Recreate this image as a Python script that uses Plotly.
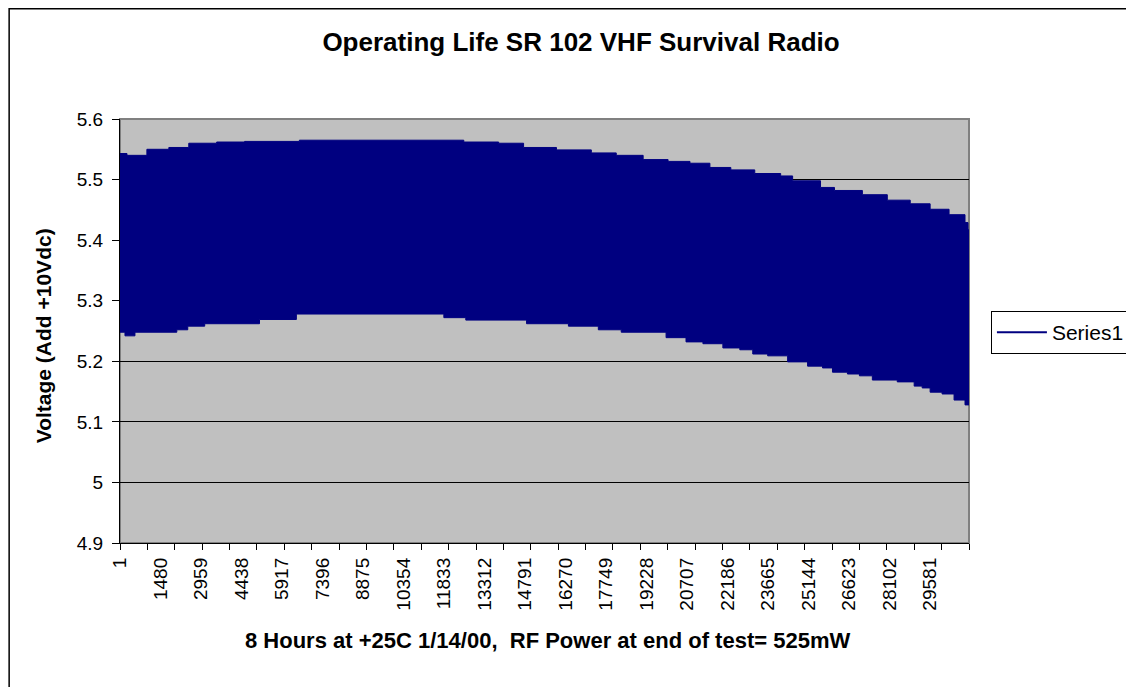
import plotly.graph_objects as go

# Category index (sample number) tick labels
x_labels = [1, 1480, 2959, 4438, 5917, 7396, 8875, 10354, 11833, 13312, 14791,
            16270, 17749, 19228, 20707, 22186, 23665, 25144, 26623, 28102, 29581]
n_samples = 31001

# Upper envelope of the oscillating voltage trace (sample index, volts)
upper_idx = [1, 256, 983, 1784, 2512, 3530, 4549, 6550, 10189, 12554, 13827, 14737,
             15938, 17211, 18121, 19103, 20013, 20813, 21541, 22305, 23178, 24124,
             24561, 25580, 26089, 27108, 28018, 28855, 29582, 30273, 30855, 30965, 31001]
upper_v = [5.543, 5.540, 5.550, 5.553, 5.560, 5.562, 5.563, 5.565, 5.565, 5.562, 5.560, 5.553,
           5.549, 5.544, 5.540, 5.533, 5.530, 5.527, 5.520, 5.516, 5.510, 5.506,
           5.498, 5.487, 5.482, 5.475, 5.466, 5.460, 5.451, 5.442, 5.429, 5.417, 5.417]

# Lower envelope of the oscillating voltage trace (sample index, volts)
lower_idx = [1, 183, 547, 2075, 2475, 3094, 5095, 6441, 11826, 12627, 14846, 16374,
             17466, 18303, 19940, 20668, 21286, 22014, 22632, 23105, 23651, 24379,
             25107, 25652, 26016, 26562, 26999, 27472, 28381, 28999, 29291, 29582,
             30018, 30455, 30855, 31001]
lower_v = [5.248, 5.242, 5.248, 5.252, 5.258, 5.262, 5.269, 5.278, 5.272, 5.268, 5.262, 5.258,
           5.252, 5.248, 5.239, 5.232, 5.229, 5.222, 5.219, 5.212, 5.209, 5.199,
           5.192, 5.189, 5.182, 5.179, 5.176, 5.169, 5.166, 5.159, 5.156, 5.149,
           5.146, 5.136, 5.128, 5.128]

y_ticks = [4.9, 5.0, 5.1, 5.2, 5.3, 5.4, 5.5, 5.6]
y_ticktext = ["4.9", "5", "5.1", "5.2", "5.3", "5.4", "5.5", "5.6"]

NAVY = "#000080"
FONT = "Liberation Sans, Arial, sans-serif"

fig = go.Figure()
fig.add_trace(go.Scatter(x=lower_idx, y=lower_v, mode="lines", line=dict(color=NAVY, width=1, shape="hv"),
                         showlegend=False, hoverinfo="skip"))
fig.add_trace(go.Scatter(x=upper_idx, y=upper_v, mode="lines", line=dict(color=NAVY, width=1, shape="hv"),
                         fill="tonexty", fillcolor=NAVY, showlegend=False, hoverinfo="skip"))
# legend entry (line sample) for Series1
fig.add_trace(go.Scatter(x=[None], y=[None], mode="lines", line=dict(color=NAVY, width=2),
                         name="Series1", xaxis="x2", yaxis="y"))

W, H = 1134, 687
OFF = 8  # page body margin offset
L, R, T, B = 120 - OFF, 972 - OFF, 119 - OFF, 543 - OFF
pw, ph = R - L, B - T

def px(xs):
    return (xs - OFF - L) / pw

def py(ys):
    return (B - (ys - OFF)) / ph

fig.update_layout(
    width=W, height=H,
    margin=dict(l=L, r=W - R, t=T, b=H - B, pad=0),
    paper_bgcolor="white",
    plot_bgcolor="#C0C0C0",
    font=dict(family=FONT, color="black", size=18),
    title=dict(text="<b>Operating Life SR 102 VHF Survival Radio</b>",
               x=(581 - OFF) / W, xanchor="center",
               y=1 - (42 - OFF) / H, yanchor="middle",
               font=dict(family=FONT, size=26, color="black")),
    xaxis=dict(range=[1, n_samples], tickmode="linear", tick0=1, dtick=1000,
               ticks="outside", ticklen=6, tickcolor="black", showticklabels=False,
               showline=True, linecolor="black", linewidth=1, showgrid=False, zeroline=False),
    xaxis2=dict(range=[1, n_samples], overlaying="x", anchor="y", side="bottom",
                tickmode="array", tickvals=x_labels, ticktext=[str(v) for v in x_labels],
                ticks="", tickangle=-90, ticklabelstandoff=10,
                tickfont=dict(family=FONT, size=19, color="black"),
                showline=False, showgrid=False, zeroline=False),
    yaxis=dict(range=[4.9, 5.6], tickmode="array", tickvals=y_ticks, ticktext=y_ticktext,
               ticks="outside", ticklen=7, tickcolor="black", ticklabelstandoff=5,
               tickfont=dict(family=FONT, size=19, color="black"),
               showline=True, linecolor="black", linewidth=1,
               showgrid=True, gridcolor="black", gridwidth=1, zeroline=False),
    legend=dict(x=px(994), y=py(311), xanchor="left", yanchor="top",
                bgcolor="white", bordercolor="black", borderwidth=1, itemwidth=50,
                font=dict(family=FONT, size=21, color="black")),
    shapes=[
        # plot-area border (gray)
        dict(type="rect", xref="paper", yref="paper", x0=0, y0=0, x1=1, y1=1,
             line=dict(color="#808080", width=2), layer="below"),
        # outer chart border
        dict(type="rect", xref="paper", yref="paper", x0=px(8.75), y0=py(700), x1=px(1150), y1=py(8.75),
             line=dict(color="black", width=1.5), layer="below"),
    ],
    annotations=[
        dict(text="<b>Voltage (Add +10Vdc)</b>", xref="paper", yref="paper",
             x=px(43), y=py(336), textangle=-90, showarrow=False,
             xanchor="center", yanchor="middle", font=dict(family=FONT, size=21, color="black")),
        dict(text="<b>8 Hours at +25C 1/14/00,  RF Power at end of test= 525mW</b>",
             xref="paper", yref="paper", x=px(549), y=py(640), showarrow=False,
             xanchor="center", yanchor="middle", font=dict(family=FONT, size=22, color="black")),
    ],
)

fig.write_html("out.html")
